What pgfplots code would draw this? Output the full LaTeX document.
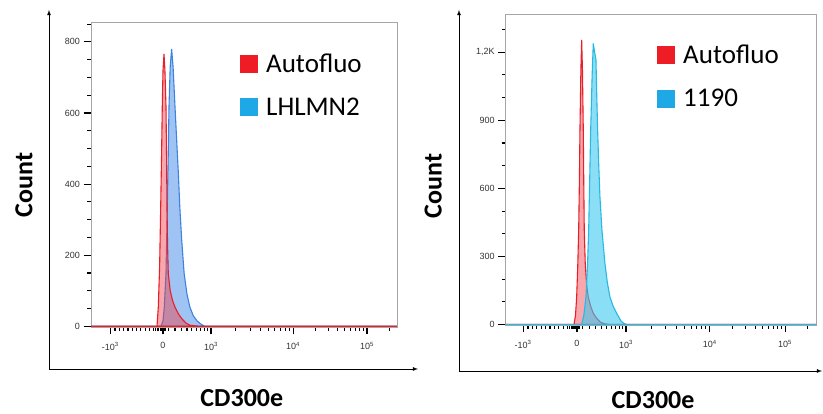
\documentclass[border=0pt]{standalone}
\usepackage{pgfplots}
\pgfplotsset{compat=1.18}
\usepackage{fontspec}
\setmainfont{Carlito}
\newfontfamily\tickfont{Liberation Sans}
\definecolor{redline}{RGB}{232,30,40}
\definecolor{redfill}{RGB}{240,60,70}
\definecolor{blueline}{RGB}{60,130,225}
\definecolor{bluefill}{RGB}{95,155,235}
\definecolor{cyanline}{RGB}{40,185,225}
\definecolor{cyanfill}{RGB}{60,200,240}
\definecolor{legred}{RGB}{238,28,37}
\definecolor{legblue}{RGB}{30,168,230}
\begin{document}
\begin{tikzpicture}
\path[use as bounding box] (0pt,0pt) rectangle (823pt,414pt);
\pgfplotsset{
 flowaxis/.style={
  scale only axis, anchor=south west,
  axis line style={draw=black!35, line width=0.5pt},
  tick align=outside, xtick pos=bottom, ytick pos=left,
  tick style={black, line width=1.1pt},
  major tick length=7.5pt, minor tick length=4pt,
  ticklabel style={font=\tickfont\fontsize{9}{10}\selectfont, text=black!80},
  xticklabel style={yshift=-4pt},
  xtick={-1.1,0,1,2.71,4.25},
  xticklabels={-10\textsuperscript{3},0,10\textsuperscript{3},10\textsuperscript{4},10\textsuperscript{5}},
  minor xtick={-1.0,-0.91,-0.82,-0.73,-0.64,-0.55,-0.46,-0.37,-0.28,-0.19,-0.15,-0.12,-0.09,-0.06,-0.03,0.03,0.06,0.12,0.25,0.38,0.5,0.6,0.7,0.78,0.86,0.93,1.515,1.816,2.03,2.195,2.33,2.445,2.544,2.632,3.174,3.445,3.637,3.786,3.908,4.011,4.1,4.18,4.71},
  label style={font=\bfseries\fontsize{26}{28}\selectfont},
  legend image code/.code={\fill[##1, draw=none] (0pt,-9pt) rectangle (18pt,9pt);},
  legend style={draw=none, fill=none, font=\fontsize{27}{28}\selectfont,
    anchor=north west, legend cell align=left, row sep=20pt,
    nodes={inner sep=2pt}, column sep=6pt},
 }
}
% ---------- left panel ----------
\draw[-latex, line width=0.8pt] (49pt,45pt) -- (49pt,404pt);
\draw[-latex, line width=0.8pt] (49pt,45pt) -- (418pt,45pt);
\begin{axis}[flowaxis, at={(91pt,87pt)}, width=306pt, height=305pt,
  xmin=-1.5, xmax=4.875, ymin=-2, ymax=856,
  ytick={0,200,400,600,800}, yticklabels={0,200,400,600,800},
  minor ytick={50,100,150,250,300,350,450,500,550,650,700,750,850},
  xlabel={CD300e}, ylabel={Count},
  xlabel style={at={(axis description cs:0.493,-0.233)}, anchor=center},
  ylabel style={at={(axis description cs:-0.219,0.466)}, anchor=center},
  legend style={at={(axis description cs:0.477,0.91)}}]
\addplot[draw=blueline, fill=bluefill, fill opacity=0.6, line width=1.1pt, forget plot] coordinates {
(-1.5,0) (-0.042,0) (0.0,15) (0.027,54) (0.0625,149) (0.09,336) (0.11,490) (0.125,618) (0.15,730) (0.18,780) (0.21,730) (0.25,618) (0.29,510) (0.32,430) (0.35,336) (0.39,242) (0.44,149) (0.5,90) (0.56,54) (0.63,30) (0.71,15) (0.8,5) (0.875,0) (4.875,0)} \closedcycle;
\addplot[draw=redline, fill=redfill, fill opacity=0.45, line width=1.1pt, forget plot] coordinates {
(-1.5,0) (-0.125,0) (-0.098,54) (-0.07,170) (-0.048,336) (-0.03,480) (-0.015,618) (0.0,720) (0.021,766) (0.04,720) (0.0625,618) (0.075,470) (0.083,336) (0.095,230) (0.11,149) (0.15,100) (0.2,72) (0.25,54) (0.32,35) (0.4,20) (0.48,9) (0.56,3) (0.77,0) (4.875,0)} \closedcycle;
\addlegendimage{fill=legred}
\addlegendentry{Autofluo}
\addlegendimage{fill=legblue}
\addlegendentry{LHLMN2}
\end{axis}
% ---------- right panel ----------
\draw[-latex, line width=0.8pt] (459pt,43pt) -- (459pt,404pt);
\draw[-latex, line width=0.8pt] (459pt,43pt) -- (822pt,43pt);
\begin{axis}[flowaxis, at={(505.7pt,89pt)}, width=310.3pt, height=310.7pt,
  xmin=-1.455, xmax=4.88, ymin=-2, ymax=1367,
  ytick={0,300,600,900,1200}, yticklabels={0,300,600,900,{1,2K}},
  minor ytick={100,200,400,500,700,800,1000,1100,1300},
  xlabel={CD300e}, ylabel={Count},
  xlabel style={at={(axis description cs:0.475,-0.241)}, anchor=center},
  ylabel style={at={(axis description cs:-0.234,0.447)}, anchor=center},
  legend style={at={(axis description cs:0.478,0.915)}}]
\addplot[draw=redline, fill=redfill, fill opacity=0.45, line width=1.1pt, forget plot] coordinates {
(-1.455,0) (-0.061,0) (-0.03,40) (-0.006,122) (0.015,250) (0.035,416) (0.05,640) (0.061,857) (0.08,1120) (0.096,1254) (0.112,1120) (0.129,857) (0.14,600) (0.149,416) (0.169,269) (0.2,170) (0.23,122) (0.28,80) (0.333,50) (0.4,28) (0.47,12) (0.55,4) (0.67,0) (4.88,0)} \closedcycle;
\addplot[draw=cyanline, fill=cyanfill, fill opacity=0.6, line width=1.1pt, forget plot] coordinates {
(-1.455,0) (0.096,0) (0.14,40) (0.184,122) (0.215,260) (0.239,416) (0.26,640) (0.28,857) (0.31,1100) (0.333,1239) (0.36,1200) (0.388,1166) (0.405,1000) (0.422,857) (0.445,700) (0.469,563) (0.51,416) (0.571,269) (0.62,185) (0.673,122) (0.74,80) (0.81,50) (0.9,15) (0.96,5) (1.02,0) (4.88,0)} \closedcycle;
\addlegendimage{fill=legred}
\addlegendentry{Autofluo}
\addlegendimage{fill=legblue}
\addlegendentry{1190}
\end{axis}
\end{tikzpicture}
\end{document}
